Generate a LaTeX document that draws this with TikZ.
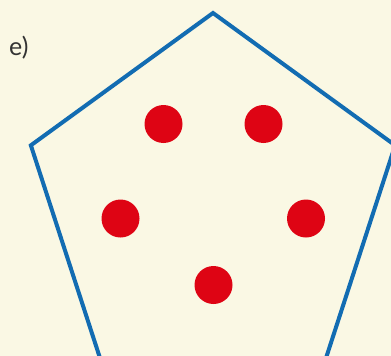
\documentclass[tikz,border=0pt]{standalone}
\usepackage{fontspec}
\setsansfont{Lato}
\usetikzlibrary{positioning,calc}
\definecolor{bg}{RGB}{250,248,228}
\definecolor{pb}{RGB}{18,108,178}
\definecolor{dr}{RGB}{222,4,20}
\begin{document}
\begin{tikzpicture}[x=1pt,y=-1pt,
    dot/.style={circle,fill=dr,inner sep=0pt,minimum size=38pt},
    edge/.style={draw=pb,line width=4pt,line join=miter},
]
\fill[bg] (0,0) rectangle (391,356);
\useasboundingbox (0,0) rectangle (391,356);
\clip (0,0) rectangle (391,356);

% regular pentagon, centre (213,204)
\coordinate (ctr) at (213,204.5);
\foreach \i/\a in {1/90,2/18,3/-54,4/-126,5/162}
  \coordinate (v\i) at ($(ctr)+(\a:191.5 and -191.5)$);
\draw[edge] (v1) -- (v2) -- (v3) -- (v4) -- (v5) -- cycle;

\node[dot] (d1) at (163.5,124) {};
\node[dot] (d2) at (263.5,124) {};
\node[dot] (d3) at (120.5,218.5) {};
\node[dot] (d4) at (306,218.5) {};
\node[dot] (d5) at (213.5,285) {};

\node[font=\sffamily\fontsize{25}{28}\selectfont,text=black!80,anchor=base west,inner sep=0pt] (lab) at (9,55) {e)};
\end{tikzpicture}
\end{document}
